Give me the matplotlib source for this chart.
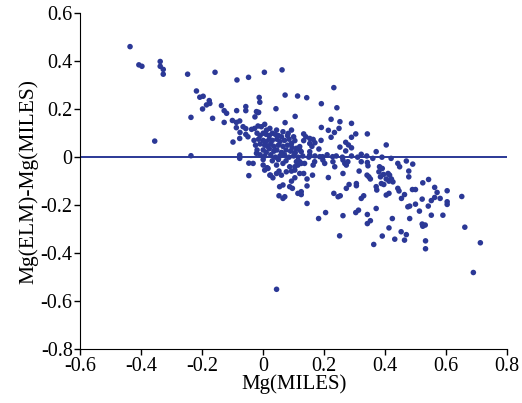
import matplotlib
matplotlib.use("Agg")
import matplotlib.pyplot as plt

# Mg(MILES) vs Mg(ELM)-Mg(MILES)
mg_miles = [
    -0.437, -0.408, -0.398, -0.338, -0.338, -0.328, -0.328, -0.248, -0.158, -0.086,
    -0.048, 0.004, 0.062, -0.219, -0.208, -0.197, -0.177, -0.175, -0.186, -0.199,
    -0.237, -0.166, -0.137, -0.128, -0.120, -0.128, -0.101, -0.088, -0.077, -0.087,
    -0.057, -0.057, -0.027, -0.015, -0.013, -0.011, -0.022, -0.017, 0.042, 0.072,
    0.113, 0.105, 0.072, -0.088, -0.076, -0.057, -0.038, -0.028, -0.017, -0.006,
    0.011, 0.022, 0.005, -0.066, -0.057, -0.077, -0.099, -0.050, -0.356, -0.237,
    -0.077, -0.077, -0.047, -0.047, -0.022, 0.044, 0.065, 0.082, 0.093, 0.232,
    0.143, 0.191, 0.242, 0.223, 0.252, 0.290, 0.191, 0.214, 0.234, 0.223,
    0.133, 0.304, 0.290, 0.342, 0.404, 0.271, 0.280, 0.290, 0.271, 0.252,
    0.153, 0.164, 0.153, 0.133, 0.104, 0.093, 0.109, 0.120, 0.183, 0.153,
    0.153, 0.322, 0.371, 0.228, 0.195, 0.186, 0.470, 0.249, 0.104, 0.125,
    0.120, 0.005, 0.013, 0.024, 0.032, 0.052, 0.060, 0.054, 0.065, 0.052,
    0.065, 0.071, 0.087, 0.096, 0.093, 0.104, 0.093, 0.104, 0.114, 0.109,
    0.104, 0.114, 0.125, 0.133, 0.144, 0.144, 0.125, 0.125, 0.144, 0.162,
    0.169, 0.164, 0.196, 0.202, 0.229, 0.235, 0.262, 0.268, 0.273, 0.278,
    0.214, 0.262, 0.232, 0.246, 0.253, 0.273, 0.282, 0.306, 0.306, 0.322,
    0.315, 0.342, 0.344, 0.341, 0.347, 0.352, 0.322, 0.330, 0.304, 0.313,
    0.205, 0.182, 0.262, 0.342, 0.342, 0.352, 0.251, 0.363, 0.371, 0.373,
    0.371, 0.382, 0.380, 0.391, 0.385, 0.395, 0.388, 0.396, 0.404, 0.413,
    0.410, 0.415, 0.421, 0.426, 0.404, 0.413, 0.424, 0.413, 0.391, 0.432,
    0.442, 0.448, 0.442, 0.446, 0.464, 0.454, 0.478, 0.478, 0.453, 0.470,
    0.464, 0.475, 0.491, 0.524, 0.543, 0.490, 0.500, 0.563, 0.571, 0.581,
    0.563, 0.552, 0.542, 0.604, 0.604, 0.604, 0.522, 0.500, 0.481, 0.513,
    0.552, 0.590, 0.652, 0.481, 0.522, 0.532, 0.524, 0.662, 0.533, 0.533,
    0.713, 0.690, 0.044, 0.022, 0.044, 0.076, 0.120, -0.033, 0.000, 0.016,
    0.044, 0.065, 0.087, 0.136, 0.120,
    -0.020, -0.010, 0.000, 0.010, 0.020, 0.030, 0.040, 0.050, 0.060, 0.080,
    0.100, -0.030, -0.015, 0.000, 0.010, 0.020, 0.030, 0.045, 0.055, 0.070,
    0.085, -0.025, -0.010, 0.005, 0.015, 0.025, 0.035, 0.050, 0.065, 0.080,
    0.095, -0.020, 0.000, 0.010, 0.020, 0.035, 0.045, 0.060, 0.075, 0.090,
    0.105, -0.010, 0.005, 0.025, 0.040, 0.055, 0.070, 0.085, 0.100, 0.115,
    0.130, 0.000, 0.030, 0.050, 0.075, 0.150, 0.170, 0.210, 0.240, 0.260,
    0.290, 0.310, 0.340, 0.360, 0.390, 0.420, 0.140, 0.170, 0.160, 0.190,
]
mg_diff = [
    0.461, 0.385, 0.379, 0.399, 0.379, 0.366, 0.346, 0.346, 0.354, 0.322,
    0.333, 0.354, 0.364, 0.276, 0.250, 0.254, 0.236, 0.224, 0.218, 0.201,
    0.166, 0.162, 0.215, 0.194, 0.183, 0.145, 0.153, 0.145, 0.151, 0.194,
    0.211, 0.194, 0.168, 0.187, 0.249, 0.229, 0.190, 0.186, 0.202, 0.259,
    0.255, 0.170, 0.144, 0.123, 0.103, 0.119, 0.116, 0.120, 0.130, 0.127,
    0.113, 0.120, 0.137, 0.127, 0.095, 0.078, 0.063, 0.085, 0.067, 0.006,
    0.009, -0.005, -0.025, -0.077, 0.016, 0.113, 0.106, 0.099, 0.113, 0.290,
    0.248, 0.223, 0.206, 0.158, 0.148, 0.141, 0.124, 0.112, 0.103, 0.083,
    0.097, 0.097, 0.083, 0.097, 0.051, 0.062, 0.051, 0.039, 0.026, 0.042,
    0.078, 0.074, 0.057, 0.069, 0.069, 0.057, 0.037, 0.030, 0.034, 0.023,
    0.009, 0.012, 0.023, 0.002, 0.002, 0.002, -0.016, 0.120, 0.016, 0.023,
    0.044, -0.054, -0.044, -0.075, -0.086, -0.058, -0.075, -0.123, -0.116, -0.161,
    -0.172, -0.165, -0.123, -0.130, -0.100, -0.086, -0.058, -0.054, -0.151, -0.019,
    -0.040, -0.033, -0.026, -0.068, -0.091, -0.120, -0.144, -0.156, -0.193, -0.075,
    -0.019, -0.033, -0.012, -0.026, -0.019, -0.040, -0.012, -0.026, -0.033, -0.019,
    -0.085, -0.068, -0.151, -0.165, -0.161, -0.130, -0.114, -0.110, -0.119, -0.019,
    -0.058, -0.022, -0.036, -0.075, -0.082, -0.091, -0.172, -0.161, -0.231, -0.221,
    -0.231, -0.256, -0.244, -0.239, -0.277, -0.265, -0.328, -0.364, -0.123, -0.137,
    -0.214, -0.040, -0.061, -0.047, -0.082, -0.072, -0.110, -0.114, -0.091, -0.100,
    -0.068, -0.075, -0.091, -0.103, -0.158, -0.151, -0.256, -0.295, -0.329, -0.342,
    -0.026, -0.040, -0.130, -0.141, -0.156, -0.172, -0.058, -0.082, -0.311, -0.323,
    -0.346, -0.207, -0.029, -0.107, -0.093, -0.135, -0.135, -0.126, -0.147, -0.172,
    -0.168, -0.181, -0.204, -0.140, -0.186, -0.197, -0.175, -0.196, -0.204, -0.225,
    -0.242, -0.242, -0.164, -0.256, -0.279, -0.283, -0.288, -0.292, -0.349, -0.382,
    -0.357, -0.481, -0.551, -0.075, -0.068, -0.061, -0.068, -0.026, -0.033, -0.047,
    -0.033, -0.026, -0.040, -0.026, -0.019,
    0.100, 0.090, 0.100, 0.095, 0.090, 0.100, 0.095, 0.090, 0.085, 0.090,
    0.085, 0.070, 0.075, 0.070, 0.065, 0.075, 0.070, 0.075, 0.065, 0.070,
    0.075, 0.050, 0.055, 0.050, 0.045, 0.055, 0.045, 0.050, 0.045, 0.050,
    0.040, 0.030, 0.030, 0.020, 0.035, 0.025, 0.030, 0.020, 0.030, 0.025,
    0.020, 0.010, 0.005, 0.010, 0.000, 0.005, 0.010, 0.000, 0.005, 0.000,
    0.005, -0.010, -0.015, -0.010, -0.015, 0.000, 0.005, 0.010, 0.005, 0.000,
    0.005, 0.000, 0.005, -0.005, 0.000, -0.005, 0.085, 0.060, 0.045, 0.070,
]
x_ticks = [-0.6, -0.4, -0.2, 0, 0.2, 0.4, 0.6, 0.8]
y_ticks = [-0.8, -0.6, -0.4, -0.2, 0, 0.2, 0.4, 0.6]

plt.rcParams['font.family'] = ['Liberation Serif', 'DejaVu Serif']
blue = '#2b3896'

fig = plt.figure(figsize=(5.22, 4.03), dpi=100)
ax = fig.add_axes([0.154, 0.134, 0.817, 0.833])

ax.scatter(mg_miles, mg_diff, s=16, color=blue, edgecolors='none', zorder=3)
ax.axhline(0, color=blue, lw=1.4, zorder=2)

ax.set_xlim(-0.6, 0.8)
ax.set_ylim(-0.8, 0.6)
ax.set_xticks(x_ticks)
ax.set_yticks(y_ticks)
ax.set_xticklabels(['-0.6', '-0.4', '-0.2', '0', '0.2', '0.4', '0.6', '0.8'])
ax.set_yticklabels(['-0.8', '-0.6', '-0.4', '-0.2', '0', '0.2', '0.4', '0.6'])
ax.tick_params(labelsize=14.5, length=4, width=1, pad=1.5)

ax.spines['top'].set_visible(False)
ax.spines['right'].set_visible(False)

ax.set_xlabel('Mg(MILES)', fontsize=15, labelpad=-1)
ax.set_ylabel('Mg(ELM)-Mg(MILES)', fontsize=15.5, labelpad=2)

fig.savefig('out.png', dpi=100)
